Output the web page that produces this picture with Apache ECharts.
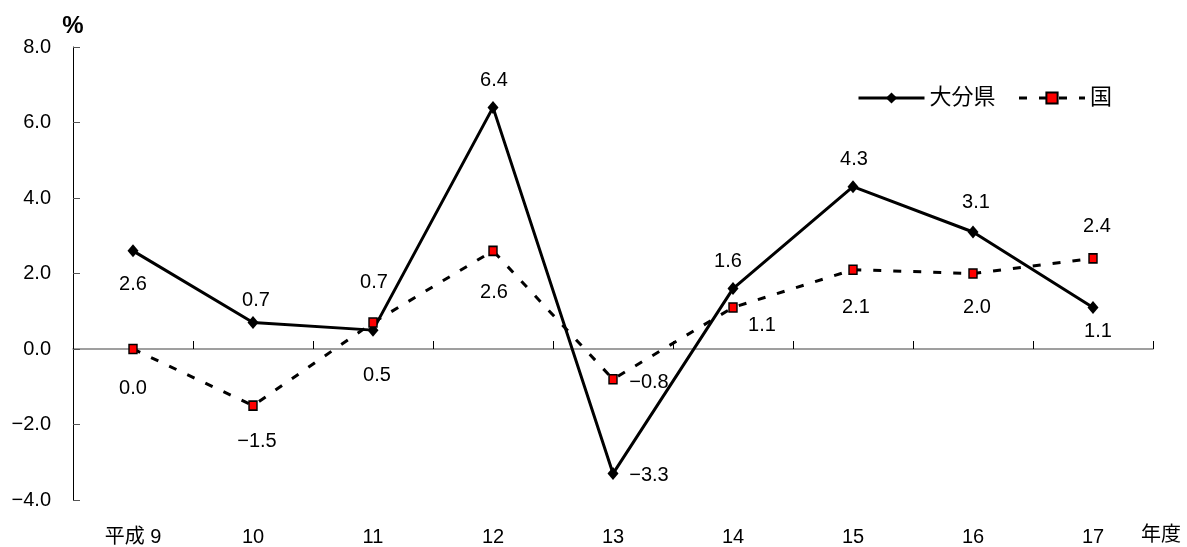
<!DOCTYPE html>
<html>
<head>
<meta charset="utf-8">
<script src="https://cdn.jsdelivr.net/npm/echarts@6/dist/echarts.min.js"></script>
<style>
html,body{margin:0;padding:0;background:#fff;}
#chart{width:1187px;height:547px;}
</style>
</head>
<body>
<div id="chart"></div>
<script>
// ---- data ----
const categories = ['平成 9', '10', '11', '12', '13', '14', '15', '16', '17'];
const oita = [2.6, 0.7, 0.5, 6.4, -3.3, 1.6, 4.3, 3.1, 1.1];
const kuni = [0.0, -1.5, 0.7, 2.6, -0.8, 1.1, 2.1, 2.0, 2.4];
const yTicks = { min: -4, max: 8, interval: 2 };

// ---- label placement (style only) ----
const oitaLabelOffset = [[0,34],[3,-22],[4,45],[1,-27],[36,2],[-5,-27],[1,-27],[3,-29],[5,24]];
const kuniLabelOffset = [[0,39],[4,36],[1,-40],[1,42],[36,3],[29,18],[3,38],[4,34],[4,-32]];

const FONT = '"Liberation Sans", "Noto Sans CJK JP", sans-serif';
const fmt = v => (v < 0 ? '\u2212' : '') + Math.abs(v).toFixed(1);

function buildData(values, offsets) {
  return values.map((v, i) => ({
    value: v,
    label: { offset: offsets[i] }
  }));
}

const labelStyle = {
  show: true,
  position: 'inside',
  color: '#000',
  fontSize: 20,
  fontFamily: FONT,
  formatter: p => fmt(p.value)
};

const chart = echarts.init(document.getElementById('chart'));
chart.setOption({
  animation: false,
  backgroundColor: '#fff',
  grid: { left: 73, right: 34, top: 47, bottom: 47, containLabel: false },
  legend: {
    left: 857, top: 87, padding: 0,
    itemWidth: 66, itemHeight: 14, itemGap: 22,
    lineStyle: { width: 3 },
    textStyle: { fontSize: 22, color: '#000', fontFamily: FONT },
    data: ['大分県', '国']
  },
  graphic: [{
    type: 'text', left: 1141, top: 525,
    style: { text: '年度', fontSize: 20, fill: '#000', fontFamily: FONT }
  }],
  xAxis: [{
    type: 'category', data: categories, position: 'bottom',
    axisLine: { show: false, onZero: false },
    axisTick: { show: false },
    axisLabel: { color: '#000', fontSize: 20, fontFamily: FONT, margin: 27 },
    splitLine: { show: false }
  }, {
    type: 'category', data: categories, position: 'top',
    axisLine: { show: true, onZero: true, lineStyle: { color: '#808080', width: 1.5 } },
    axisTick: { show: true, inside: false, length: 8, lineStyle: { color: '#000', width: 1 } },
    axisLabel: { show: false },
    splitLine: { show: false }
  }],
  yAxis: {
    type: 'value', min: yTicks.min, max: yTicks.max, interval: yTicks.interval,
    name: '%', nameLocation: 'end', nameGap: 9,
    nameTextStyle: { color: '#000', fontSize: 24, fontWeight: 'bold', fontFamily: FONT, align: 'center' },
    axisLine: { show: true, lineStyle: { color: '#000', width: 1 } },
    axisTick: { show: true, inside: true, length: 7, lineStyle: { color: '#555' } },
    axisLabel: { color: '#000', fontSize: 20, fontFamily: FONT, margin: 22, formatter: v => fmt(v) },
    splitLine: { show: false }
  },
  series: [{
    name: '大分県', type: 'line', xAxisIndex: 0,
    data: buildData(oita, oitaLabelOffset),
    symbol: 'diamond', symbolSize: [11, 13],
    lineStyle: { color: '#000', width: 3 },
    itemStyle: { color: '#000' },
    label: labelStyle,
    z: 2
  }, {
    name: '国', type: 'line', xAxisIndex: 0,
    data: buildData(kuni, kuniLabelOffset),
    symbol: 'rect', symbolSize: [8, 9],
    lineStyle: { color: '#000', width: 3, type: [8, 12] },
    itemStyle: { color: '#ff0000', borderColor: '#000', borderWidth: 1.5 },
    label: labelStyle,
    z: 3
  }]
});
</script>
</body>
</html>
